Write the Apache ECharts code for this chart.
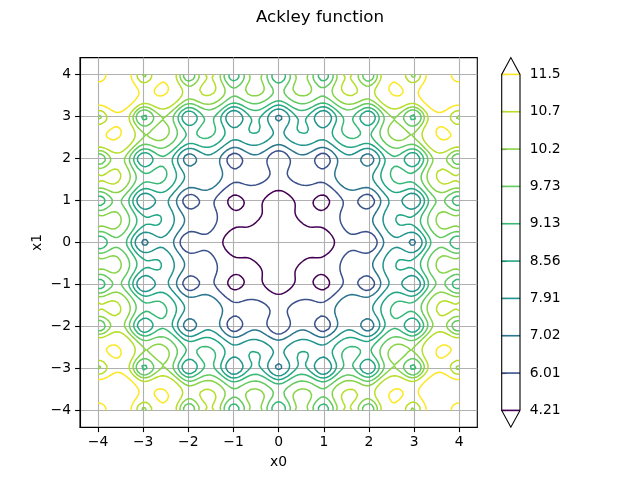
<!DOCTYPE html>
<html><head><meta charset="utf-8">
<script src="https://cdn.jsdelivr.net/npm/echarts@6/dist/echarts.min.js"></script>
<style>html,body{margin:0;padding:0;background:#fff}#c{width:640px;height:480px}</style>
</head><body><div id="c"></div>
<script>
// ---- data ----
const chartTitle = 'Ackley function';
const xName = 'x0';
const yName = 'x1';
const xTicks = [-4, -3, -2, -1, 0, 1, 2, 3, 4];
const yTicks = [-4, -3, -2, -1, 0, 1, 2, 3, 4];
const levels = [4.21, 6.01, 7.02, 7.91, 8.56, 9.13, 9.73, 10.2, 10.7, 11.5];
const levelLabels = ['4.21', '6.01', '7.02', '7.91', '8.56', '9.13', '9.73', '10.2', '10.7', '11.5'];
// Ackley function parameters and sampling domain
const ackleyA = 20;
const ackleyB = 0.2;
const ackleyC = 2 * Math.PI;
const domain = [-4, 4];
const gridPoints = 129;

// ---- styles ----
const viridisStops = ['#440154','#471365','#482475','#463480','#414487','#3b528b','#355f8d','#2f6c8e','#2a788e','#25848e','#21918c','#1e9c89','#22a884','#2fb47c','#44bf70','#5ec962','#7ad151','#9bd93c','#bddf26','#dfe318','#fde725'];
function hex2rgb(h){return [parseInt(h.slice(1,3),16),parseInt(h.slice(3,5),16),parseInt(h.slice(5,7),16)];}
function viridis(t){
  t = Math.max(0, Math.min(1, t));
  const p = t * (viridisStops.length - 1);
  const i = Math.min(Math.floor(p), viridisStops.length - 2);
  const f = p - i;
  const a = hex2rgb(viridisStops[i]), b = hex2rgb(viridisStops[i+1]);
  const c = a.map((v,k)=>Math.round(v + (b[k]-v)*f));
  return 'rgb(' + c.join(',') + ')';
}
const lvMin = levels[0], lvMax = levels[levels.length-1];
const levelColors = levels.map(l => viridis((l - lvMin)/(lvMax - lvMin)));
const FONT = 'DejaVu Sans';
const FS = 13.9;

// ---- sample the function ----
function ackley(x, y){
  const r = Math.sqrt((x*x + y*y)/2);
  const s = (Math.cos(ackleyC*x) + Math.cos(ackleyC*y))/2;
  return -ackleyA*Math.exp(-ackleyB*r) - Math.exp(s) + ackleyA + Math.E;
}
const gx = [], gy = [];
for (let i = 0; i < gridPoints; i++) {
  gx.push(domain[0] + (domain[1]-domain[0])*i/(gridPoints-1));
  gy.push(domain[0] + (domain[1]-domain[0])*i/(gridPoints-1));
}
const Z = gy.map(y => gx.map(x => ackley(x, y)));

// ---- marching squares ----
function contour(L){
  const pts = {}; const segs = [];
  function edgePoint(key, x1, y1, z1, x2, y2, z2){
    if (!(key in pts)) {
      let t = (L - z1)/(z2 - z1);
      if (!isFinite(t)) t = 0.5;
      pts[key] = [x1 + (x2-x1)*t, y1 + (y2-y1)*t];
    }
    return key;
  }
  const n = gridPoints;
  for (let j = 0; j < n-1; j++) {
    for (let i = 0; i < n-1; i++) {
      const a = Z[j][i], b = Z[j][i+1], c = Z[j+1][i+1], d = Z[j+1][i];
      const code = (a>L?1:0)|(b>L?2:0)|(c>L?4:0)|(d>L?8:0);
      if (code === 0 || code === 15) continue;
      const x0 = gx[i], x1 = gx[i+1], y0 = gy[j], y1 = gy[j+1];
      const E = {};
      if ((a>L) !== (b>L)) E.B = edgePoint('h'+i+','+j, x0,y0,a, x1,y0,b);
      if ((b>L) !== (c>L)) E.R = edgePoint('v'+(i+1)+','+j, x1,y0,b, x1,y1,c);
      if ((d>L) !== (c>L)) E.T = edgePoint('h'+i+','+(j+1), x0,y1,d, x1,y1,c);
      if ((a>L) !== (d>L)) E.Lf = edgePoint('v'+i+','+j, x0,y0,a, x0,y1,d);
      const ks = Object.keys(E);
      if (ks.length === 2) { segs.push([E[ks[0]], E[ks[1]]]); }
      else if (ks.length === 4) {
        const ctr = (a+b+c+d)/4;
        let isoA;
        if (code === 5) isoA = !(ctr > L); else isoA = (ctr > L);
        if (isoA) { segs.push([E.Lf, E.B]); segs.push([E.R, E.T]); }
        else { segs.push([E.B, E.R]); segs.push([E.T, E.Lf]); }
      }
    }
  }
  // join segments into polylines
  const adj = {};
  segs.forEach((s, k) => { (adj[s[0]] = adj[s[0]] || []).push(k); (adj[s[1]] = adj[s[1]] || []).push(k); });
  const used = new Array(segs.length).fill(false);
  const lines = [];
  function walk(startKey, chain){
    let key = startKey;
    while (true) {
      const cand = (adj[key] || []).find(k => !used[k]);
      if (cand === undefined) break;
      used[cand] = true;
      const s = segs[cand];
      key = (s[0] === key) ? s[1] : s[0];
      chain.push(key);
    }
  }
  for (let k = 0; k < segs.length; k++) {
    if (used[k]) continue;
    used[k] = true;
    const fwd = [segs[k][0], segs[k][1]];
    walk(segs[k][1], fwd);
    const bwd = [];
    walk(segs[k][0], bwd);
    const chain = bwd.reverse().concat(fwd);
    lines.push(chain.map(key => pts[key]));
  }
  return lines;
}

const series = [];
levels.forEach((L, idx) => {
  const lines = contour(L);
  const data = [];
  lines.forEach(pl => { pl.forEach(p => data.push(p)); data.push(['-', '-']); });
  series.push({
    type: 'line', xAxisIndex: 0, yAxisIndex: 0, data: data,
    showSymbol: false, symbol: 'none', connectNulls: false, silent: true,
    lineStyle: { color: levelColors[idx], width: 1.5 }, z: 3
  });
  series.push({
    type: 'line', xAxisIndex: 1, yAxisIndex: 1, data: [[0, idx], [1, idx]],
    showSymbol: false, symbol: 'none', silent: true, clip: false,
    lineStyle: { color: levelColors[idx], width: 1.6 }, z: 3
  });
});
// colorbar outline with extension triangles
const extFrac = 0.45;
series.push({
  type: 'custom', xAxisIndex: 1, yAxisIndex: 1, data: [[0, 0]], silent: true, clip: false, z: 4,
  renderItem: function(params, api){
    const top = levels.length - 1;
    const P = [[0,0],[0,top],[0.5,top+extFrac],[1,top],[1,0],[0.5,-extFrac]].map(p => api.coord(p));
    return { type: 'polygon', shape: { points: P }, style: { fill: 'none', stroke: '#000', lineWidth: 1.1 } };
  }
});

function fmt(v){ return v < 0 ? '\u2212' + Math.abs(v) : String(v); }
const axisText = { color: '#000', fontFamily: FONT, fontSize: FS };

const option = {
  animation: false,
  title: { text: chartTitle, left: 'center', top: 4, textStyle: { color: '#000', fontFamily: FONT, fontSize: 16.7, fontWeight: 'normal' } },
  grid: [
    { left: 80, right: 162.7, top: 57.6, bottom: 52.8, show: true, borderColor: '#000', borderWidth: 1.1, backgroundColor: 'transparent' },
    { left: 501.7, width: 18.3, top: 74.4, height: 336 }
  ],
  xAxis: [
    { type: 'value', gridIndex: 0, min: -4.4, max: 4.4, name: xName, nameLocation: 'middle', nameGap: 28,
      nameTextStyle: axisText,
      axisLine: { show: true, onZero: false, lineStyle: { color: '#000', width: 1.1 } },
      axisTick: { show: true, length: 4.9, customValues: xTicks, lineStyle: { color: '#000', width: 1.1 } },
      axisLabel: { customValues: xTicks, formatter: fmt, margin: 8, ...axisText },
      splitLine: { show: true, lineStyle: { color: '#b0b0b0', width: 1.1 } } },
    { type: 'value', gridIndex: 1, min: 0, max: 1, show: false }
  ],
  yAxis: [
    { type: 'value', gridIndex: 0, min: -4.4, max: 4.4, name: yName, nameLocation: 'middle', nameGap: 36,
      nameMoveOverlap: false,
      nameTextStyle: axisText,
      axisLine: { show: true, onZero: false, lineStyle: { color: '#000', width: 1.1 } },
      axisTick: { show: true, length: 4.9, customValues: yTicks, lineStyle: { color: '#000', width: 1.1 } },
      axisLabel: { customValues: yTicks, formatter: fmt, margin: 9, ...axisText },
      splitLine: { show: true, lineStyle: { color: '#b0b0b0', width: 1.1 } } },
    { type: 'value', gridIndex: 1, min: 0, max: levels.length - 1, interval: 1, position: 'right',
      axisLine: { show: false },
      axisTick: { show: true, length: 4.9, lineStyle: { color: '#000', width: 1.1 } },
      axisLabel: { formatter: v => levelLabels[Math.round(v)], margin: 9.7, ...axisText },
      splitLine: { show: false } }
  ],
  series: series
};
const chart = echarts.init(document.getElementById('c'), null, { renderer: 'canvas' });
chart.setOption(option);
</script></body></html>
